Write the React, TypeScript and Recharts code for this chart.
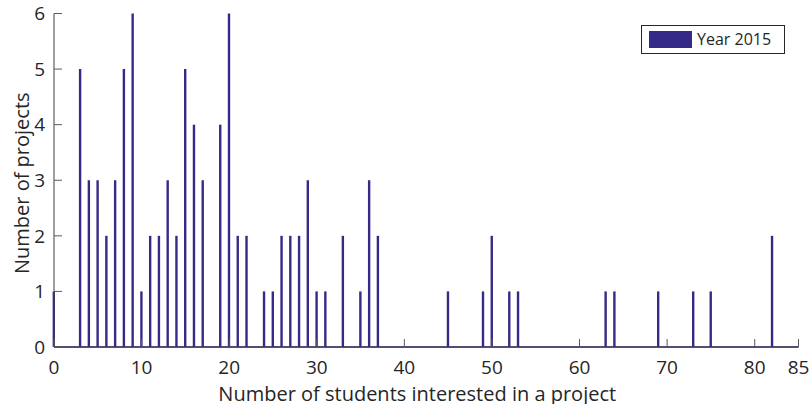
import React from 'react';
import { BarChart, Bar, XAxis, YAxis, ReferenceLine, Legend } from 'recharts';

const students = [0, 3, 4, 5, 6, 7, 8, 9, 10, 11, 12, 13, 14, 15, 16, 17, 19, 20, 21, 22, 24, 25, 26, 27, 28, 29, 30, 31, 33, 35, 36, 37, 45, 49, 50, 52, 53, 63, 64, 69, 73, 75, 82];
const projects = [1, 5, 3, 3, 2, 3, 5, 6, 1, 2, 2, 3, 2, 5, 4, 3, 4, 6, 2, 2, 1, 1, 2, 2, 2, 3, 1, 1, 2, 1, 3, 2, 1, 1, 2, 1, 1, 1, 1, 1, 1, 1, 2];
const xTicks = [0, 10, 20, 30, 40, 50, 60, 70, 80, 85];
const yTicks = [0, 1, 2, 3, 4, 5, 6];
const seriesName = 'Year 2015';
const xTitle = 'Number of students interested in a project';
const yTitle = 'Number of projects';

const data = students.map((s, i) => ({ students: s, projects: projects[i] }));

const BAR = '#352a87';
const AXIS = '#404040';
const TICK = '#5a5a5a';
const TEXT = '#262626';
const FONT = '"Open Sans", sans-serif';

const BottomTick = (props: any) => {
  const { x, y, payload } = props;
  return (
    <g>
      <line x1={x} x2={x} y1={y} y2={y - 8} stroke={TICK} strokeWidth={1} />
      <text x={x} y={y + 27} textAnchor="middle" fontSize={19} fill={TEXT} fontFamily={FONT}>
        {payload.value}
      </text>
    </g>
  );
};

const TopTick = (props: any) => {
  const { x, y } = props;
  return <line x1={x} x2={x} y1={y} y2={y + 8} stroke={TICK} strokeWidth={1} />;
};

const LeftTick = (props: any) => {
  const { x, y, payload } = props;
  return (
    <g>
      <line x1={x} x2={x + 8} y1={y} y2={y} stroke={TICK} strokeWidth={1} />
      <text x={x - 9} y={y + 6.8} textAnchor="end" fontSize={19} fill={TEXT} fontFamily={FONT}>
        {payload.value}
      </text>
    </g>
  );
};

const RightTick = (props: any) => {
  const { x, y } = props;
  return <line x1={x} x2={x - 8} y1={y} y2={y} stroke={TICK} strokeWidth={1} />;
};

const XTitle = (props: any) => {
  const vb = props.viewBox || {};
  return (
    <text x={vb.x + vb.width / 2 - 9} y={vb.y + 54} textAnchor="middle" fontSize={20} fill={TEXT} fontFamily={FONT}>
      {xTitle}
    </text>
  );
};

const YTitle = (props: any) => {
  const vb = props.viewBox || {};
  const cx = vb.x + 29;
  const cy = vb.y + vb.height / 2 + 3;
  return (
    <text
      x={cx}
      y={cy}
      transform={`rotate(-90 ${cx} ${cy})`}
      textAnchor="middle"
      fontSize={20}
      fill={TEXT}
      fontFamily={FONT}
    >
      {yTitle}
    </text>
  );
};

const LegendBox = () => (
  <div
    style={{
      boxSizing: 'border-box',
      width: 144,
      height: 29,
      border: `1px solid ${TEXT}`,
      background: '#fff',
      display: 'flex',
      alignItems: 'center',
      paddingLeft: 7,
      fontFamily: FONT,
    }}
  >
    <div style={{ width: 43, height: 17, background: BAR }} />
    <span style={{ marginLeft: 5, fontSize: 16, color: TEXT, lineHeight: '17px' }}>{seriesName}</span>
  </div>
);

export default function App() {
  return (
    <div style={{ position: 'fixed', left: 0, top: 0, width: 809, height: 404, background: '#fff' }}>
      <BarChart
        width={809}
        height={404}
        data={data}
        margin={{ top: 13.5, right: 10.5, bottom: 0, left: 0 }}
        style={{ fontFamily: FONT }}
      >
        <XAxis
          xAxisId="b"
          dataKey="students"
          type="number"
          domain={[0, 85]}
          ticks={xTicks}
          interval={0}
          height={57}
          tickSize={0}
          tickMargin={0}
          tickLine={false}
          tick={<BottomTick />}
          axisLine={{ stroke: AXIS }}
          label={<XTitle />}
        />
        <XAxis
          xAxisId="t"
          orientation="top"
          type="number"
          domain={[0, 85]}
          ticks={xTicks}
          interval={0}
          allowDataOverflow
          height={0}
          tickSize={0}
          tickMargin={0}
          tickLine={false}
          tick={<TopTick />}
          axisLine={{ stroke: AXIS }}
        />
        <YAxis
          yAxisId="l"
          type="number"
          domain={[0, 6]}
          ticks={yTicks}
          interval={0}
          width={54}
          tickSize={0}
          tickMargin={0}
          tickLine={false}
          tick={<LeftTick />}
          axisLine={{ stroke: AXIS }}
          label={<YTitle />}
        />
        <YAxis
          yAxisId="r"
          orientation="right"
          type="number"
          domain={[0, 6]}
          ticks={yTicks}
          interval={0}
          allowDataOverflow
          width={0}
          tickSize={0}
          tickMargin={0}
          tickLine={false}
          tick={<RightTick />}
          axisLine={{ stroke: AXIS }}
        />
        <Legend
          layout="vertical"
          align="center"
          verticalAlign="middle"
          content={<LegendBox />}
          wrapperStyle={{ left: 641, top: 25, width: 144, height: 29 }}
        />
        <Bar
          xAxisId="b"
          yAxisId="l"
          dataKey="projects"
          name={seriesName}
          fill={BAR}
          barSize={2.4}
          isAnimationActive={false}
        />
        <ReferenceLine xAxisId="b" yAxisId="l" y={0} stroke={BAR} strokeWidth={1.5} />
      </BarChart>
    </div>
  );
}
